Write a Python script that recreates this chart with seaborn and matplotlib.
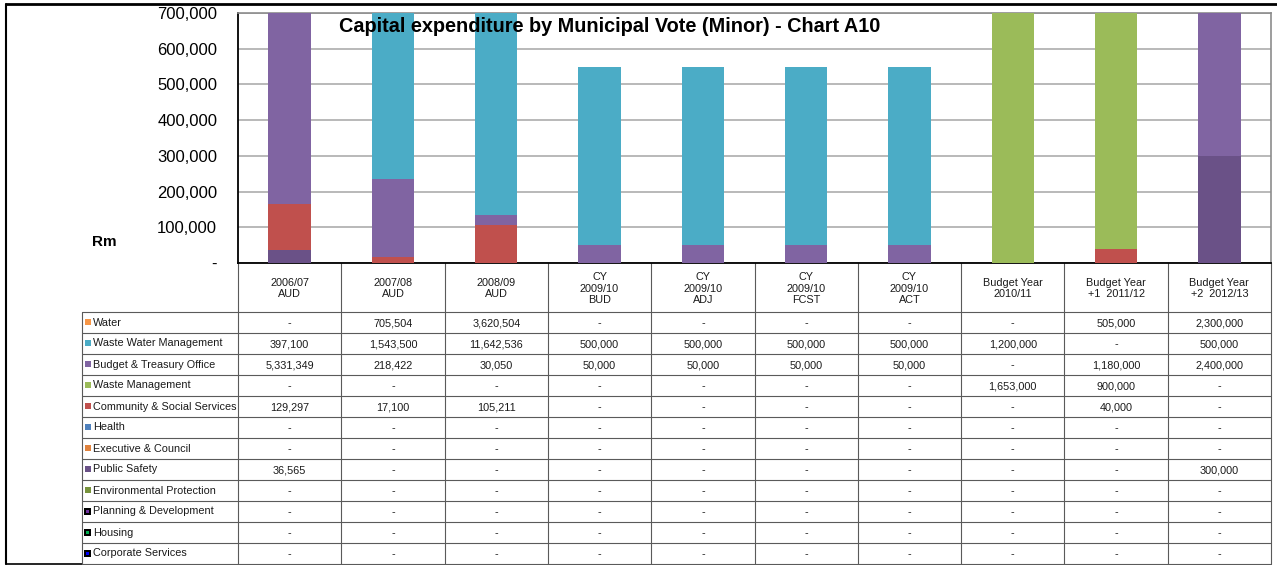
import numpy as np
import pandas as pd
import matplotlib
matplotlib.use("Agg")
import matplotlib.pyplot as plt
import matplotlib.patches as mpatches
from matplotlib.ticker import FuncFormatter
import seaborn as sns

W, H = 1277, 565

periods = ["2006/07\nAUD", "2007/08\nAUD", "2008/09\nAUD",
           "CY\n2009/10\nBUD", "CY\n2009/10\nADJ", "CY\n2009/10\nFCST", "CY\n2009/10\nACT",
           "Budget Year\n2010/11", "Budget Year\n+1  2011/12", "Budget Year\n+2  2012/13"]

votes = ["Water", "Waste Water Management", "Budget & Treasury Office", "Waste Management",
         "Community & Social Services", "Health", "Executive & Council", "Public Safety",
         "Environmental Protection", "Planning & Development", "Housing", "Corporate Services"]

water           = [0, 705504, 3620504, 0, 0, 0, 0, 0, 505000, 2300000]
waste_water     = [397100, 1543500, 11642536, 500000, 500000, 500000, 500000, 1200000, 0, 500000]
budget_treasury = [5331349, 218422, 30050, 50000, 50000, 50000, 50000, 0, 1180000, 2400000]
waste_mgmt      = [0, 0, 0, 0, 0, 0, 0, 1653000, 900000, 0]
community       = [129297, 17100, 105211, 0, 0, 0, 0, 0, 40000, 0]
health          = [0] * 10
executive       = [0] * 10
public_safety   = [36565, 0, 0, 0, 0, 0, 0, 0, 0, 300000]
environmental   = [0] * 10
planning        = [0] * 10
housing         = [0] * 10
corporate       = [0] * 10

values = [water, waste_water, budget_treasury, waste_mgmt, community, health,
          executive, public_safety, environmental, planning, housing, corporate]
colors = ["#F79646", "#4BACC6", "#8064A2", "#9BBB59", "#C0504D", "#4F81BD",
          "#E0823D", "#6A5187", "#77933C", "#7030A0", "#00B050", "#0000FF"]
boxed = {"Planning & Development", "Housing", "Corporate Services"}

sns.set_style("white")
plt.rcParams["font.family"] = ["Liberation Sans", "DejaVu Sans"]
plt.rcParams["text.color"] = "black"
plt.rcParams["ytick.color"] = "black"

fig = plt.figure(figsize=(W / 100, H / 100), dpi=100)

# overlay axes in pixel coordinates for the data table
tab = fig.add_axes([0, 0, 1, 1])
tab.set_xlim(0, W)
tab.set_ylim(H, 0)
tab.axis("off")

px = lambda v: v / W
py = lambda v: 1 - v / H

left, right, top, bottom = 238, 1271, 13, 263
ax = fig.add_axes([px(left), py(bottom), px(right - left), (bottom - top) / H])

# stacked bars: draw cumulative totals from the top series down
df = pd.DataFrame(dict(zip(votes, values)), index=periods)
stack = df[votes[::-1]].cumsum(axis=1)
for name, col in zip(votes, colors):
    sns.barplot(x=periods, y=stack[name].values, color=col, saturation=1,
                width=0.41, errorbar=None, ax=ax, zorder=3, order=periods,
                linewidth=0, edgecolor="none")

ax.set_ylim(0, 700000)
ax.set_xlim(-0.5, len(periods) - 0.5)
ax.set_yticks(np.arange(0, 700001, 100000))
ax.yaxis.set_major_formatter(FuncFormatter(lambda v, p: "-" if v == 0 else f"{v:,.0f}"))
ax.tick_params(axis="y", length=0, pad=15, labelsize=12, labelcolor="black")
ax.tick_params(axis="x", length=0, labelbottom=False)
ax.set_xlabel("")
ax.set_ylabel("")
ax.grid(axis="y", color="#A6A6A6", lw=1.1, zorder=0)
for s in ("top", "right"):
    ax.spines[s].set_color("#8C8C8C")
    ax.spines[s].set_linewidth(1.2)
for s in ("left", "bottom"):
    ax.spines[s].set_color("black")
    ax.spines[s].set_linewidth(1.3)

fig.text(px(610), py(27), "Capital expenditure by Municipal Vote (Minor) - Chart A10",
         ha="center", va="center", fontsize=14.3, fontweight="bold", color="black")
fig.text(px(104), py(242), "Rm", ha="center", va="center", fontsize=11,
         fontweight="bold", color="black")

# outer frame
tab.plot([6, W], [4, 4], color="black", lw=2)
tab.plot([6, 6], [4, 564], color="black", lw=1.5)
tab.plot([6, 82], [564, 564], color="black", lw=1.2)

# table grid
ncol = len(periods)
cw = (right - left) / ncol
head_top, row0, rh = bottom, 312, 21
nrow = len(votes)
line = "#5A5A5A"
for i in range(ncol + 1):
    x = left + i * cw
    tab.plot([x, x], [head_top, row0 + nrow * rh], color=line, lw=0.8)
tab.plot([82, 82], [row0, row0 + nrow * rh], color=line, lw=0.8)
for r in range(nrow + 1):
    y = row0 + r * rh
    tab.plot([82, right], [y, y], color=line, lw=0.8)

for i, lab in enumerate(periods):
    tab.text(left + (i + 0.5) * cw, (head_top + row0) / 2 + 1, lab, ha="center",
             va="center", fontsize=7.8, color="#1A1A1A", multialignment="center",
             linespacing=1.15)

for r, (name, vals, col) in enumerate(zip(votes, values, colors)):
    yc = row0 + (r + 0.5) * rh - 1
    if name in boxed:
        tab.add_patch(mpatches.Rectangle((84, yc - 3), 7, 7, fc="black", ec="none"))
        tab.add_patch(mpatches.Rectangle((86, yc - 1), 3, 3, fc=col, ec="none"))
    else:
        tab.add_patch(mpatches.Rectangle((85, yc - 3), 6, 6, fc=col, ec="none"))
    tab.text(93, yc + 1, name, ha="left", va="center", fontsize=7.8, color="#1A1A1A")
    for i, v in enumerate(vals):
        txt = "-" if v == 0 else f"{v:,.0f}"
        tab.text(left + (i + 0.5) * cw, yc + 2, txt, ha="center", va="center",
                 fontsize=7.8, color="#1A1A1A")

fig.savefig("out.png", dpi=100)
